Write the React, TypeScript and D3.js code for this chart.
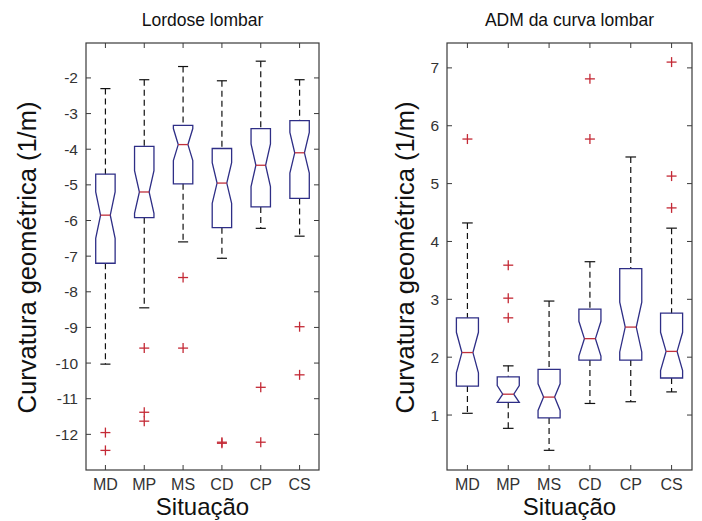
import React from "react";
import * as d3 from "d3";

const categories = ["MD", "MP", "MS", "CD", "CP", "CS"];

// Lordose lombar
const lordWhiskerHigh = [-2.3, -2.05, -1.68, -2.08, -1.53, -2.05];
const lordQ3 = [-4.7, -3.92, -3.33, -3.98, -3.42, -3.2];
const lordMedian = [-5.85, -5.2, -3.87, -4.95, -4.45, -4.1];
const lordQ1 = [-7.2, -5.92, -4.97, -6.2, -5.62, -5.38];
const lordWhiskerLow = [-10.03, -8.45, -6.6, -7.06, -6.22, -6.44];
const lordNotch = [0.65, 0.6, 0.45, 0.57, 0.6, 0.57];
const lordOutliers = [
  [-11.95, -12.45],
  [-9.58, -11.38, -11.63],
  [-7.6, -9.58],
  [-12.22, -12.25],
  [-10.68, -12.22],
  [-8.98, -10.33],
];
const lordTicks = [-2, -3, -4, -5, -6, -7, -8, -9, -10, -11, -12];

// ADM da curva lombar
const admWhiskerHigh = [4.32, 1.85, 2.97, 3.65, 5.46, 4.23];
const admQ3 = [2.68, 1.66, 1.79, 2.83, 3.53, 2.76];
const admMedian = [2.08, 1.36, 1.31, 2.32, 2.52, 2.1];
const admQ1 = [1.5, 1.22, 0.95, 1.95, 1.95, 1.64];
const admWhiskerLow = [1.03, 0.77, 0.39, 1.2, 1.23, 1.4];
const admNotch = [0.35, 0.15, 0.23, 0.3, 0.43, 0.33];
const admOutliers = [[5.77], [3.59, 3.02, 2.68], [], [6.81, 5.77], [], [7.1, 5.13, 4.58]];
const admTicks = [1, 2, 3, 4, 5, 6, 7];

const FONT = "'Liberation Sans', Arial, Helvetica, sans-serif";
const BOX = "#2e2e86";
const MED = "#c0303c";
const OUT = "#c42a36";
const FRAME = "#3a3a3a";

type PanelProps = {
  title: string;
  x0: number;
  x1: number;
  y0: number;
  y1: number;
  domain: [number, number];
  ticks: number[];
  whiskerHigh: number[];
  q3: number[];
  median: number[];
  q1: number[];
  whiskerLow: number[];
  notch: number[];
  outliers: number[][];
  labelX: number;
  boxFrac: number;
};

function Panel(p: PanelProps) {
  const x = d3.scaleLinear().domain([0.5, categories.length + 0.5]).range([p.x0, p.x1]);
  const y = d3.scaleLinear().domain(p.domain).range([p.y1, p.y0]);
  const step = x(2) - x(1);
  const bw = step * p.boxFrac;
  const capW = step * 0.26;
  const tl = 5;

  return (
    <g>
      <text
        x={(p.x0 + p.x1) / 2}
        y={26}
        textAnchor="middle"
        fontSize={17.5}
        fontFamily={FONT}
        fill="#111"
      >
        {p.title}
      </text>
      <rect x={p.x0} y={p.y0} width={p.x1 - p.x0} height={p.y1 - p.y0} fill="none" stroke={FRAME} strokeWidth={1.2} />
      {p.ticks.map((t) => (
        <g key={"yt" + t}>
          <line x1={p.x0} x2={p.x0 + tl} y1={y(t)} y2={y(t)} stroke={FRAME} />
          <line x1={p.x1} x2={p.x1 - tl} y1={y(t)} y2={y(t)} stroke={FRAME} />
          <text
            x={p.x0 - 8}
            y={y(t)}
            textAnchor="end"
            dominantBaseline="central"
            fontSize={15.5}
            fontFamily={FONT}
            fill="#333"
          >
            {t}
          </text>
        </g>
      ))}
      {categories.map((c, i) => (
        <g key={"xt" + c}>
          <line x1={x(i + 1)} x2={x(i + 1)} y1={p.y1} y2={p.y1 - tl} stroke={FRAME} />
          <line x1={x(i + 1)} x2={x(i + 1)} y1={p.y0} y2={p.y0 + tl} stroke={FRAME} />
          <text
            x={x(i + 1)}
            y={490}
            textAnchor="middle"
            fontSize={16}
            fontFamily={FONT}
            fill="#333"
          >
            {c}
          </text>
        </g>
      ))}
      {categories.map((c, i) => {
        const cx = x(i + 1);
        const l = cx - bw / 2;
        const r = cx + bw / 2;
        const inset = bw / 4;
        const nHi = Math.min(p.median[i] + p.notch[i], p.q3[i]);
        const nLo = Math.max(p.median[i] - p.notch[i], p.q1[i]);
        const pts: [number, number][] = [
          [l, y(p.q3[i])],
          [l, y(nHi)],
          [l + inset, y(p.median[i])],
          [l, y(nLo)],
          [l, y(p.q1[i])],
          [r, y(p.q1[i])],
          [r, y(nLo)],
          [r - inset, y(p.median[i])],
          [r, y(nHi)],
          [r, y(p.q3[i])],
        ];
        const path = d3.line()(pts) + "Z";
        return (
          <g key={"box" + c}>
            <line x1={cx} x2={cx} y1={y(p.whiskerHigh[i])} y2={y(p.q3[i])} stroke="#111" strokeWidth={1.2} strokeDasharray="6,4" />
            <line x1={cx} x2={cx} y1={y(p.q1[i])} y2={y(p.whiskerLow[i])} stroke="#111" strokeWidth={1.2} strokeDasharray="6,4" />
            <line x1={cx - capW / 2} x2={cx + capW / 2} y1={y(p.whiskerHigh[i])} y2={y(p.whiskerHigh[i])} stroke="#111" strokeWidth={1.2} />
            <line x1={cx - capW / 2} x2={cx + capW / 2} y1={y(p.whiskerLow[i])} y2={y(p.whiskerLow[i])} stroke="#111" strokeWidth={1.2} />
            <path d={path} fill="none" stroke={BOX} strokeWidth={1.3} />
            <line x1={l + inset} x2={r - inset} y1={y(p.median[i])} y2={y(p.median[i])} stroke={MED} strokeWidth={1.3} />
            {p.outliers[i].map((v, k) => (
              <g key={"o" + k}>
                <line x1={cx - 5} x2={cx + 5} y1={y(v)} y2={y(v)} stroke={OUT} strokeWidth={1.3} />
                <line x1={cx} x2={cx} y1={y(v) - 5} y2={y(v) + 5} stroke={OUT} strokeWidth={1.3} />
              </g>
            ))}
          </g>
        );
      })}
      <text
        x={(p.x0 + p.x1) / 2}
        y={515}
        textAnchor="middle"
        fontSize={24}
        fontFamily={FONT}
        fill="#111"
      >
        Situação
      </text>
      <text
        transform={`translate(${p.labelX},${(p.y0 + p.y1) / 2 + 1}) rotate(-90)`}
        textAnchor="middle"
        dominantBaseline="central"
        fontSize={25.5}
        fontFamily={FONT}
        fill="#111"
      >
        Curvatura geométrica (1/m)
      </text>
    </g>
  );
}

export default function App() {
  return (
    <svg
      width={702}
      height={521}
      style={{ position: "absolute", left: 0, top: 0, background: "#fff" }}
    >
      <rect width={702} height={521} fill="#fff" />
      <Panel
        title="Lordose lombar"
        x0={86}
        x1={319}
        y0={43}
        y1={470}
        domain={[-13.0, -1.02]}
        ticks={lordTicks}
        whiskerHigh={lordWhiskerHigh}
        q3={lordQ3}
        median={lordMedian}
        q1={lordQ1}
        whiskerLow={lordWhiskerLow}
        notch={lordNotch}
        outliers={lordOutliers}
        labelX={27}
        boxFrac={0.5}
      />
      <Panel
        title="ADM da curva lombar"
        x0={447}
        x1={692}
        y0={43}
        y1={470}
        domain={[0.05, 7.43]}
        ticks={admTicks}
        whiskerHigh={admWhiskerHigh}
        q3={admQ3}
        median={admMedian}
        q1={admQ1}
        whiskerLow={admWhiskerLow}
        notch={admNotch}
        outliers={admOutliers}
        labelX={405}
        boxFrac={0.54}
      />
    </svg>
  );
}
